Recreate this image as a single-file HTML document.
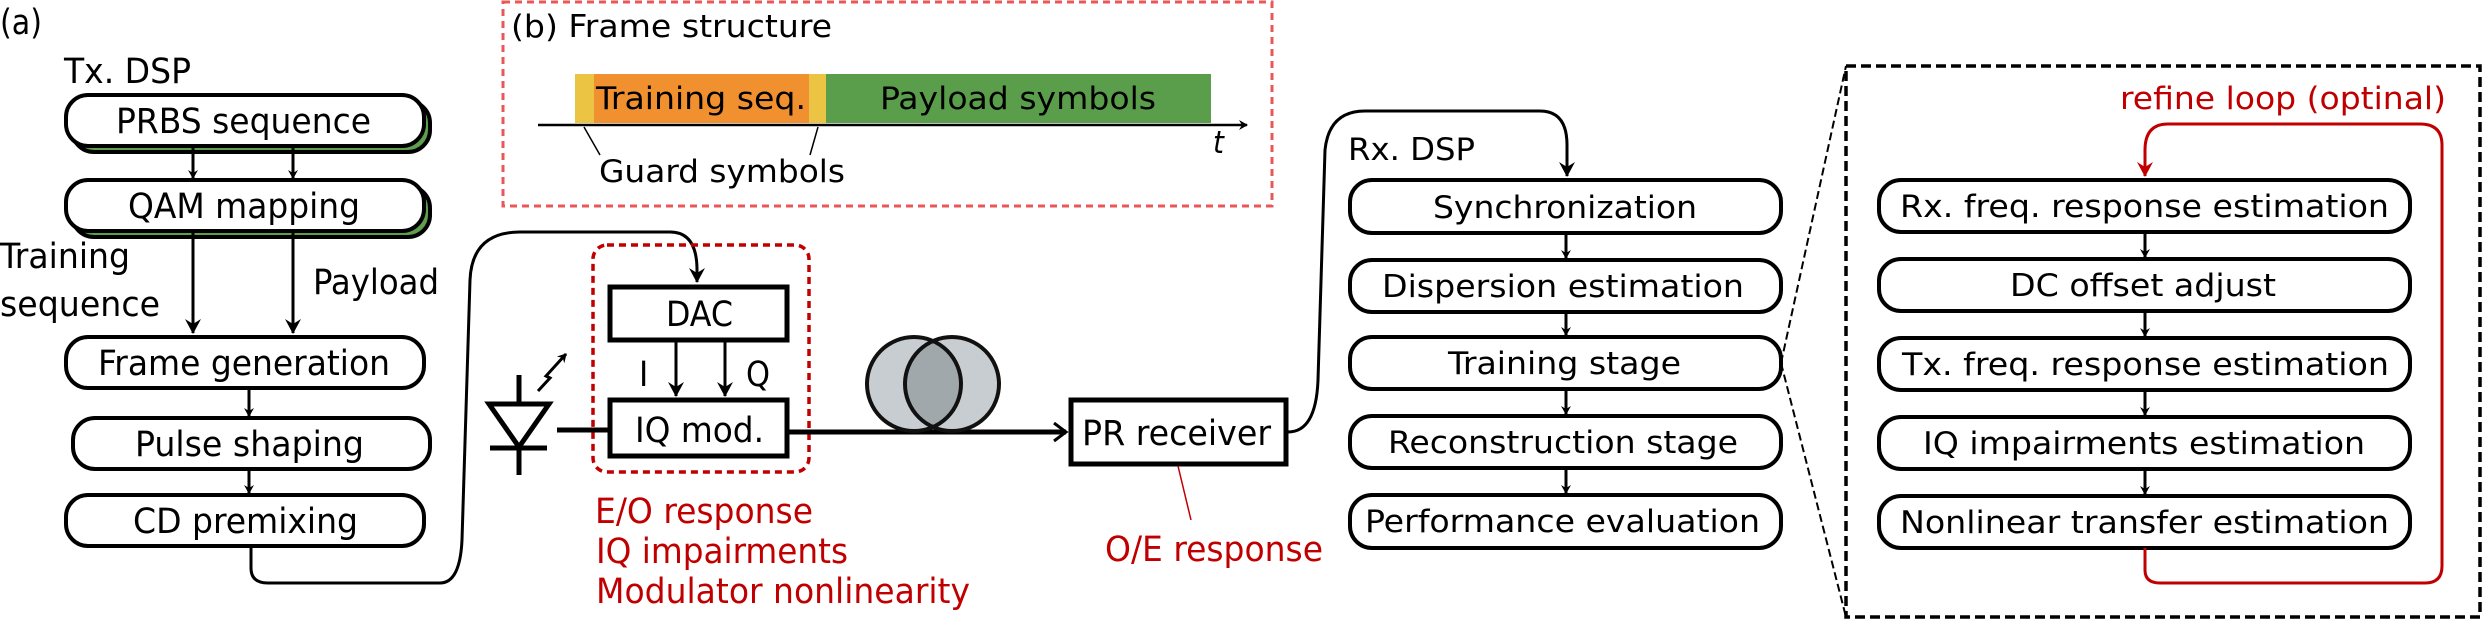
<!DOCTYPE html>
<html><head><meta charset="utf-8"><style>
html,body{margin:0;padding:0;background:#fff;}
svg{display:block;}
text{font-family:"DejaVu Sans Condensed","DejaVu Sans","Liberation Sans",sans-serif;font-size:31px;fill:#000;}
.r{fill:#c00000;}
.b{font-size:35px;}
</style></head><body>
<svg width="2482" height="619" viewBox="0 0 2482 619" xmlns="http://www.w3.org/2000/svg">
<defs>
<marker id="ah" markerWidth="10" markerHeight="10" refX="8" refY="5" orient="auto" markerUnits="userSpaceOnUse"><path d="M0,0 L9,5 L0,10 L3,5 Z" fill="#000"/></marker>
<marker id="ahb" markerWidth="16" markerHeight="24" refX="14" refY="8" orient="auto" markerUnits="userSpaceOnUse"><path d="M0,0 L15,8 L0,16 L5,8 Z" fill="#000"/></marker>
<marker id="ahr" markerWidth="16" markerHeight="24" refX="14" refY="8" orient="auto" markerUnits="userSpaceOnUse"><path d="M0,0 L15,8 L0,16 L5,8 Z" fill="#c00000"/></marker>
<marker id="ao" markerWidth="18" markerHeight="24" refX="14" refY="10" orient="auto" markerUnits="userSpaceOnUse"><path d="M2,1 L14,10 L2,19" fill="none" stroke="#000" stroke-width="3"/></marker>
</defs>
<g stroke="#000" stroke-width="4" fill="#fff">
<rect x="72" y="101" width="358" height="51" rx="22" fill="#5e9e4e"/>
<rect x="66" y="95" width="358" height="51" rx="22"/>
<rect x="72" y="186" width="358" height="51" rx="22" fill="#5e9e4e"/>
<rect x="66" y="180" width="358" height="51" rx="22"/>
<rect x="66" y="337" width="358" height="51" rx="22"/>
<rect x="73" y="418" width="357" height="51" rx="22"/>
<rect x="66" y="495" width="358" height="51" rx="22"/>
</g>
<g stroke="#000" stroke-width="3" fill="none">
<line x1="193" y1="148" x2="193" y2="178" marker-end="url(#ah)"/>
<line x1="293" y1="148" x2="293" y2="178" marker-end="url(#ah)"/>
<line x1="193" y1="233" x2="193" y2="333" marker-end="url(#ahb)"/>
<line x1="293" y1="233" x2="293" y2="333" marker-end="url(#ahb)"/>
<line x1="249" y1="388" x2="249" y2="416" marker-end="url(#ah)"/>
<line x1="249" y1="469" x2="249" y2="493" marker-end="url(#ah)"/>
<path d="M251,546 L251,568 Q251,583 268,583 L440,583 Q460,583 462,540 L470,280 Q472,232 520,232 L670,232 Q697,232 697,270 L697,282" marker-end="url(#ahb)"/>
</g>
<text class="b" x="0" y="34" textLength="42" lengthAdjust="spacingAndGlyphs">(a)</text>
<text class="b" x="64" y="83" textLength="127" lengthAdjust="spacingAndGlyphs">Tx. DSP</text>
<text class="b" x="116" y="133" textLength="255" lengthAdjust="spacingAndGlyphs">PRBS sequence</text>
<text class="b" x="128" y="218" textLength="232" lengthAdjust="spacingAndGlyphs">QAM mapping</text>
<text class="b" x="98" y="375" textLength="292" lengthAdjust="spacingAndGlyphs">Frame generation</text>
<text class="b" x="135" y="456" textLength="229" lengthAdjust="spacingAndGlyphs">Pulse shaping</text>
<text class="b" x="133" y="533" textLength="225" lengthAdjust="spacingAndGlyphs">CD premixing</text>
<text class="b" x="0" y="268" textLength="130" lengthAdjust="spacingAndGlyphs">Training</text>
<text class="b" x="0" y="316" textLength="160" lengthAdjust="spacingAndGlyphs">sequence</text>
<text class="b" x="313" y="294" textLength="126" lengthAdjust="spacingAndGlyphs">Payload</text>

<!-- frame structure -->
<rect x="503" y="2" width="769" height="204" fill="none" stroke="#e8575a" stroke-width="3" stroke-dasharray="7,5"/>
<text x="511" y="37" textLength="321" lengthAdjust="spacingAndGlyphs">(b) Frame structure</text>
<rect x="575" y="74" width="19" height="49" fill="#ecc443"/>
<rect x="594" y="74" width="215" height="49" fill="#f0902f"/>
<rect x="809" y="74" width="17" height="49" fill="#ecc443"/>
<rect x="826" y="74" width="385" height="49" fill="#5a9e4c"/>
<line x1="538" y1="125" x2="1247" y2="125" stroke="#000" stroke-width="2.5" marker-end="url(#ah)"/>
<text x="596" y="109" textLength="210" lengthAdjust="spacingAndGlyphs">Training seq.</text>
<text x="880" y="109" textLength="276" lengthAdjust="spacingAndGlyphs">Payload symbols</text>
<text x="1213" y="153" font-style="italic" font-size="28" font-family="Liberation Serif, serif">t</text>
<line x1="584" y1="127" x2="600" y2="155" stroke="#000" stroke-width="1.5"/>
<line x1="818" y1="127" x2="810" y2="155" stroke="#000" stroke-width="1.5"/>
<text x="599" y="182" textLength="246" lengthAdjust="spacingAndGlyphs">Guard symbols</text>

<!-- transmitter optics -->
<rect x="593" y="245" width="216" height="227" rx="14" fill="none" stroke="#c00000" stroke-width="3.5" stroke-dasharray="7,5"/>
<rect x="610" y="287" width="177" height="53" fill="#fff" stroke="#000" stroke-width="5"/>
<rect x="610" y="400" width="177" height="56" fill="#fff" stroke="#000" stroke-width="5"/>
<text class="b" x="666" y="326" textLength="67" lengthAdjust="spacingAndGlyphs">DAC</text>
<text class="b" x="635" y="442" textLength="129" lengthAdjust="spacingAndGlyphs">IQ mod.</text>
<line x1="676" y1="341" x2="676" y2="396" stroke="#000" stroke-width="3" marker-end="url(#ahb)"/>
<line x1="725" y1="341" x2="725" y2="396" stroke="#000" stroke-width="3" marker-end="url(#ahb)"/>
<text class="b" x="639" y="386">I</text>
<text class="b" x="746" y="386" textLength="24" lengthAdjust="spacingAndGlyphs">Q</text>
<g stroke="#000" stroke-width="5" fill="none">
<line x1="519" y1="375" x2="519" y2="475"/>
<path d="M489,404 L549,404 L519,447 Z" fill="#fff"/>
<line x1="490" y1="448" x2="547" y2="448"/>
<line x1="557" y1="430" x2="610" y2="430"/>
</g>
<path d="M538,391 L550,378 L546,376 L566,354" stroke="#000" stroke-width="3" fill="none" marker-end="url(#ah)"/>
<text class="r b" x="595" y="523" textLength="218" lengthAdjust="spacingAndGlyphs">E/O response</text>
<text class="r b" x="596" y="563" textLength="252" lengthAdjust="spacingAndGlyphs">IQ impairments</text>
<text class="r b" x="596" y="603" textLength="374" lengthAdjust="spacingAndGlyphs">Modulator nonlinearity</text>

<!-- fiber -->
<line x1="787" y1="432" x2="1066" y2="432" stroke="#000" stroke-width="5" marker-end="url(#ao)"/>
<circle cx="914" cy="384" r="47" fill="#c7cdd0"/>
<circle cx="952" cy="384" r="47" fill="#c7cdd0"/>
<path d="M933,341 A47,47 0 0 1 933,427 A47,47 0 0 1 933,341 Z" fill="#a0a8ac"/>
<circle cx="914" cy="384" r="47" fill="none" stroke="#111" stroke-width="4"/>
<circle cx="952" cy="384" r="47" fill="none" stroke="#111" stroke-width="4"/>
<rect x="1071" y="400" width="215" height="64" fill="#fff" stroke="#000" stroke-width="5"/>
<text class="b" x="1082" y="445" textLength="189" lengthAdjust="spacingAndGlyphs">PR receiver</text>
<line x1="1178" y1="466" x2="1191" y2="520" stroke="#c00000" stroke-width="1.5"/>
<text class="r b" x="1105" y="561" textLength="218" lengthAdjust="spacingAndGlyphs">O/E response</text>
<path d="M1288,432 Q1316,432 1318,380 L1325,150 Q1329,111 1365,111 L1540,111 Q1567,111 1567,145 L1567,176" stroke="#000" stroke-width="3" fill="none" marker-end="url(#ahb)"/>

<!-- Rx DSP -->
<text x="1348" y="160" textLength="127" lengthAdjust="spacingAndGlyphs">Rx. DSP</text>
<g stroke="#000" stroke-width="4" fill="#fff">
<rect x="1350" y="180" width="431" height="53" rx="22"/>
<rect x="1350" y="260" width="431" height="52" rx="22"/>
<rect x="1350" y="337" width="431" height="52" rx="22"/>
<rect x="1350" y="416" width="431" height="52" rx="22"/>
<rect x="1350" y="495" width="431" height="53" rx="22"/>
</g>
<g stroke="#000" stroke-width="3">
<line x1="1566" y1="233" x2="1566" y2="258" marker-end="url(#ah)"/>
<line x1="1566" y1="312" x2="1566" y2="335" marker-end="url(#ah)"/>
<line x1="1566" y1="389" x2="1566" y2="414" marker-end="url(#ah)"/>
<line x1="1566" y1="468" x2="1566" y2="493" marker-end="url(#ah)"/>
</g>
<text x="1433" y="218" textLength="264" lengthAdjust="spacingAndGlyphs">Synchronization</text>
<text x="1382" y="297" textLength="362" lengthAdjust="spacingAndGlyphs">Dispersion estimation</text>
<text x="1448" y="374" textLength="233" lengthAdjust="spacingAndGlyphs">Training stage</text>
<text x="1388" y="453" textLength="350" lengthAdjust="spacingAndGlyphs">Reconstruction stage</text>
<text x="1365" y="532" textLength="395" lengthAdjust="spacingAndGlyphs">Performance evaluation</text>

<!-- zoom box -->
<line x1="1781" y1="363" x2="1846" y2="66" stroke="#000" stroke-width="2" stroke-dasharray="8,4"/>
<line x1="1781" y1="363" x2="1846" y2="617" stroke="#000" stroke-width="2" stroke-dasharray="8,4"/>
<rect x="1846" y="66" width="634" height="551" fill="none" stroke="#000" stroke-width="3.5" stroke-dasharray="10,5"/>
<text class="r" x="2120" y="109" textLength="326" lengthAdjust="spacingAndGlyphs">refine loop (optinal)</text>
<g stroke="#000" stroke-width="4" fill="#fff">
<rect x="1879" y="180" width="531" height="52" rx="22"/>
<rect x="1879" y="259" width="531" height="52" rx="22"/>
<rect x="1879" y="338" width="531" height="52" rx="22"/>
<rect x="1879" y="417" width="531" height="52" rx="22"/>
<rect x="1879" y="496" width="531" height="52" rx="22"/>
</g>
<g stroke="#000" stroke-width="3">
<line x1="2145" y1="232" x2="2145" y2="257" marker-end="url(#ah)"/>
<line x1="2145" y1="311" x2="2145" y2="336" marker-end="url(#ah)"/>
<line x1="2145" y1="390" x2="2145" y2="415" marker-end="url(#ah)"/>
<line x1="2145" y1="469" x2="2145" y2="494" marker-end="url(#ah)"/>
</g>
<text x="1900" y="217" textLength="489" lengthAdjust="spacingAndGlyphs">Rx. freq. response estimation</text>
<text x="2010" y="296" textLength="266" lengthAdjust="spacingAndGlyphs">DC offset adjust</text>
<text x="1902" y="375" textLength="487" lengthAdjust="spacingAndGlyphs">Tx. freq. response estimation</text>
<text x="1923" y="454" textLength="442" lengthAdjust="spacingAndGlyphs">IQ impairments estimation</text>
<text x="1900" y="533" textLength="489" lengthAdjust="spacingAndGlyphs">Nonlinear transfer estimation</text>
<path d="M2145,548 L2145,570 Q2145,583 2160,583 L2425,583 Q2442,583 2442,566 L2442,145 Q2442,124 2420,124 L2168,124 Q2145,124 2145,150 L2145,176" stroke="#c00000" stroke-width="3" fill="none" marker-end="url(#ahr)"/>
</svg>
</body></html>
